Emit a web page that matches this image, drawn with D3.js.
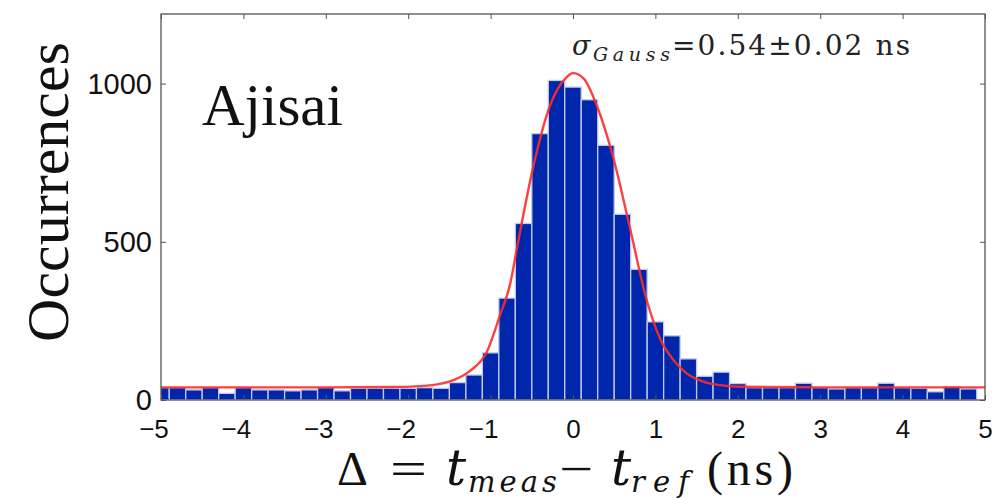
<!DOCTYPE html>
<html>
<head>
<meta charset="utf-8">
<script src="https://cdn.jsdelivr.net/npm/d3@7"></script>
<style>
  body { margin: 0; background: #fff; }
  svg { display: block; }
</style>
</head>
<body>
<div id="chart"></div>
<script>
// histogram bins (centres, width 0.2 ns) and occurrences
var binCenters = [-5.0, -4.8, -4.6, -4.4, -4.2, -4.0, -3.8, -3.6, -3.4, -3.2,
                  -3.0, -2.8, -2.6, -2.4, -2.2, -2.0, -1.8, -1.6, -1.4, -1.2,
                  -1.0, -0.8, -0.6, -0.4, -0.2, 0.0, 0.2, 0.4, 0.6, 0.8,
                  1.0, 1.2, 1.4, 1.6, 1.8, 2.0, 2.2, 2.4, 2.6, 2.8,
                  3.0, 3.2, 3.4, 3.6, 3.8, 4.0, 4.2, 4.4, 4.6, 4.8];
var counts = [39, 39, 32, 39, 21, 39, 32, 32, 29, 32,
              39, 29, 37, 37, 37, 37, 39, 37, 55, 79,
              149, 322, 558, 842, 1010, 989, 949, 805, 587, 413,
              247, 203, 130, 75, 88, 52, 39, 39, 39, 53,
              39, 35, 39, 39, 53, 39, 37, 26, 42, 35];
var binWidth = 0.2;

// gaussian fit curve
var fitX = [-5, -3, -2.2, -1.85, -1.6, -1.45, -1.25, -1.05, -0.89, -0.76, -0.68, -0.48, -0.28, -0.08,
            0.0, 0.13, 0.29, 0.49, 0.69, 0.89, 1.06, 1.22, 1.38, 1.58, 1.78, 2.03, 3, 5];
var fitY = [40, 40, 41, 44, 52, 63, 92, 150, 265, 370, 480, 740, 930, 1020,
            1033, 1016, 930, 765, 545, 320, 192, 126, 84, 58, 47, 42, 40, 40];

var xTicks = [-5, -4, -3, -2, -1, 0, 1, 2, 3, 4, 5];
var yTicks = [0, 500, 1000];

var svgWidth = 1002;
var svgHeight = 499;
var margin = { top: 14, right: 17, bottom: 99, left: 161 };
var width = svgWidth - margin.left - margin.right;
var height = svgHeight - margin.top - margin.bottom;

var svg = d3.select("#chart")
  .append("svg")
  .attr("width", svgWidth)
  .attr("height", svgHeight);

var x = d3.scaleLinear().domain([-5, 5]).range([0, width]);
var y = d3.scaleLinear().domain([0, 1220]).range([height, 0]);

var chartGroup = svg.append("g")
  .attr("transform", `translate(${margin.left}, ${margin.top})`);

chartGroup.append("clipPath")
  .attr("id", "plotclip")
  .append("rect")
  .attr("width", width)
  .attr("height", height);

var plot = chartGroup.append("g").attr("clip-path", "url(#plotclip)");

var bins = binCenters.map((c, i) => ({ c: c, n: counts[i] }));

plot.selectAll("rect.bar")
  .data(bins)
  .enter()
  .append("rect")
  .attr("class", "bar")
  .attr("x", d => x(d.c - binWidth / 2))
  .attr("width", d => x(d.c + binWidth / 2) - x(d.c - binWidth / 2))
  .attr("y", d => y(d.n))
  .attr("height", d => y(0) - y(d.n))
  .attr("fill", "#0026ab")
  .attr("stroke", "#c3cbea")
  .attr("stroke-width", 1.3);

var fit = fitX.map((v, i) => [v, fitY[i]]);

plot.append("path")
  .datum(fit)
  .attr("fill", "none")
  .attr("stroke", "#ff2b2b")
  .attr("stroke-opacity", 0.9)
  .attr("stroke-width", 2.4)
  .attr("d", d3.line()
    .x(d => x(d[0]))
    .y(d => y(d[1]))
    .curve(d3.curveMonotoneX));

// frame
chartGroup.append("rect")
  .attr("width", width)
  .attr("height", height)
  .attr("fill", "none")
  .attr("stroke", "#555")
  .attr("stroke-width", 1.3);

var fmt = d => d < 0 ? "\u2212" + Math.abs(d) : String(d);

var xAxis = chartGroup.append("g")
  .attr("transform", `translate(0, ${height})`)
  .call(d3.axisBottom(x).tickValues(xTicks).tickFormat(fmt)
    .tickSizeInner(-5).tickSizeOuter(0).tickPadding(20));
xAxis.select(".domain").remove();
xAxis.selectAll("line").attr("stroke", "#555");
xAxis.selectAll("text")
  .attr("font-family", "'Liberation Sans', Arial, sans-serif")
  .attr("font-size", 26)
  .attr("fill", "#111")
  .attr("dx", d => d < 0 ? "-0.29em" : 0);

var yAxis = chartGroup.append("g")
  .call(d3.axisLeft(y).tickValues(yTicks).tickFormat(d3.format("d"))
    .tickSizeInner(-5).tickSizeOuter(0).tickPadding(9));
yAxis.select(".domain").remove();
yAxis.selectAll("line").attr("stroke", "#555");
yAxis.selectAll("text")
  .attr("font-family", "'Liberation Sans', Arial, sans-serif")
  .attr("font-size", 29)
  .attr("fill", "#111")
  .attr("dy", "0.33em");

// mirrored ticks on top and right
var topAxis = chartGroup.append("g")
  .call(d3.axisTop(x).tickValues(xTicks).tickFormat("").tickSizeInner(-5).tickSizeOuter(0));
topAxis.select(".domain").remove();
topAxis.selectAll("line").attr("stroke", "#555");

var rightAxis = chartGroup.append("g")
  .attr("transform", `translate(${width}, 0)`)
  .call(d3.axisRight(y).tickValues(yTicks).tickFormat("").tickSizeInner(-5).tickSizeOuter(0));
rightAxis.select(".domain").remove();
rightAxis.selectAll("line").attr("stroke", "#555");

var serif = "'Liberation Serif', 'Times New Roman', serif";
var wideSerif = "'DejaVu Serif', serif";

// y label
svg.append("text")
  .attr("transform", "translate(68, 192) rotate(-90)")
  .attr("text-anchor", "middle")
  .attr("font-family", serif)
  .attr("font-size", 60)
  .attr("fill", "#111")
  .text("Occurrences");

// satellite name
svg.append("text")
  .attr("x", 202)
  .attr("y", 125)
  .attr("font-family", serif)
  .attr("font-size", 59)
  .attr("fill", "#111")
  .text("Ajisai");

// sigma annotation
var ann = svg.append("g")
  .attr("font-family", wideSerif)
  .attr("fill", "#222");
ann.append("text")
  .attr("x", 572).attr("y", 55)
  .attr("font-size", 27).attr("font-style", "italic")
  .text("σ");
ann.append("text")
  .attr("x", 593).attr("y", 61)
  .attr("font-size", 19).attr("font-style", "italic")
  .attr("textLength", 77).attr("lengthAdjust", "spacing")
  .text("Gauss");
ann.append("text")
  .attr("x", 672).attr("y", 55)
  .attr("font-size", 28)
  .attr("textLength", 238).attr("lengthAdjust", "spacing")
  .text("=0.54±0.02 ns");

// x label
var xl = svg.append("g")
  .attr("font-family", serif)
  .attr("fill", "#111");
xl.append("text").attr("x", 337).attr("y", 485).attr("font-size", 48).text("Δ");
xl.append("text").attr("x", 390).attr("y", 485).attr("font-size", 48)
  .attr("textLength", 37).attr("lengthAdjust", "spacingAndGlyphs").text("=");
xl.append("text").attr("x", 446).attr("y", 485).attr("font-size", 50)
  .attr("font-family", wideSerif).attr("font-style", "italic").text("t");
xl.append("text").attr("x", 468).attr("y", 492).attr("font-size", 29)
  .attr("font-family", wideSerif).attr("font-style", "italic")
  .attr("textLength", 89).attr("lengthAdjust", "spacing").text("meas");
xl.append("text").attr("x", 559).attr("y", 485).attr("font-size", 48)
  .attr("textLength", 34).attr("lengthAdjust", "spacingAndGlyphs").text("\u2212");
xl.append("text").attr("x", 611).attr("y", 485).attr("font-size", 50)
  .attr("font-family", wideSerif).attr("font-style", "italic").text("t");
xl.append("text").attr("x", 631).attr("y", 492).attr("font-size", 29)
  .attr("font-family", wideSerif).attr("font-style", "italic")
  .attr("textLength", 58).attr("lengthAdjust", "spacing").text("ref");
xl.append("text").attr("x", 707).attr("y", 485).attr("font-size", 48)
  .attr("textLength", 86).attr("lengthAdjust", "spacing").text("(ns)");
</script>
</body>
</html>
